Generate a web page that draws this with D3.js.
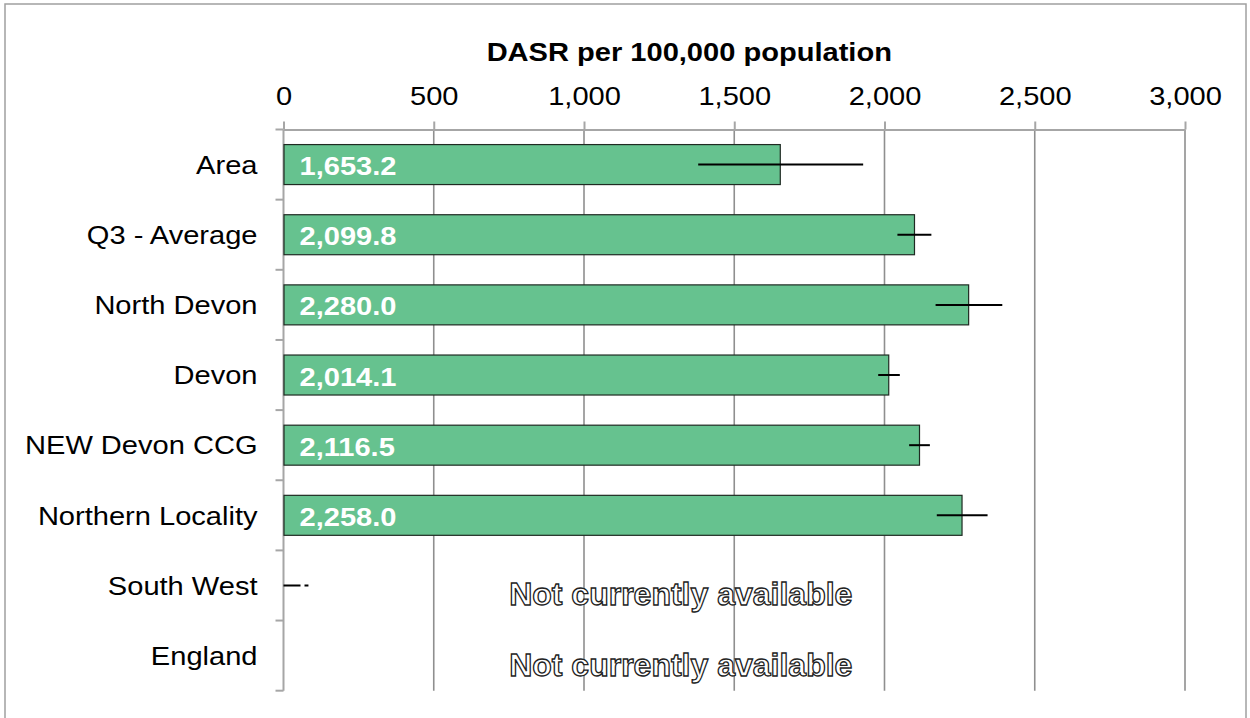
<!DOCTYPE html>
<html>
<head>
<meta charset="utf-8">
<script src="https://cdn.jsdelivr.net/npm/d3@7"></script>
<style>
  html, body { margin: 0; padding: 0; background: #fff; }
  svg { display: block; }
  text { font-family: "Liberation Sans", Arial, sans-serif; }
</style>
</head>
<body>
<svg id="chart" width="1250" height="718"></svg>
<script>
// ---- data ----
const categories = ["Area", "Q3 - Average", "North Devon", "Devon", "NEW Devon CCG", "Northern Locality", "South West", "England"];
const values = [1653.2, 2099.8, 2280.0, 2014.1, 2116.5, 2258.0, null, null];
const lowerCI = [1380, 2043, 2170, 1979, 2082, 2174, 0, null];
const upperCI = [1929, 2156, 2392, 2051, 2151, 2343, 83, null];
const tickValues = [0, 500, 1000, 1500, 2000, 2500, 3000];
const axisTitle = "DASR per 100,000 population";
const naText = "Not currently available";
const naLabelValue = 1322;

// ---- layout ----
const x0 = 283.5, x1 = 1185;
const yTop = 129.5, yBot = 690.7;
const fs = 25.5, sx = 1.14;
const fmt = d3.format(",.1f");

const svg = d3.select("#chart");

// border
svg.append("rect")
  .attr("x", 5).attr("y", 4).attr("width", 1241).attr("height", 730)
  .attr("fill", "none").attr("stroke", "#a0a0a0").attr("stroke-width", 1.5);

const x = d3.scaleLinear().domain([0, 3000]).range([x0, x1]);
const y = d3.scaleBand().domain(categories).range([yTop, yBot])
  .paddingInner(0.43).paddingOuter(0.215);

// gridlines
svg.append("g").selectAll("line").data(tickValues.filter(d => d > 0)).join("line")
  .attr("x1", d => x(d)).attr("x2", d => x(d))
  .attr("y1", yTop).attr("y2", yBot)
  .attr("stroke", "#8f8f8f").attr("stroke-width", 1.6);

// top axis
const gx = svg.append("g").attr("transform", `translate(0,${yTop})`)
  .call(d3.axisTop(x).tickValues(tickValues).tickFormat(d3.format(",")).tickSize(8).tickSizeOuter(0).tickPadding(17));
gx.select(".domain").attr("stroke", "#a6a6a6").attr("stroke-width", 2);
gx.selectAll(".tick line").attr("stroke", "#a6a6a6").attr("stroke-width", 2);
gx.selectAll(".tick text")
  .attr("font-size", fs).attr("fill", "#000")
  .attr("font-family", "Liberation Sans, Arial, sans-serif")
  .attr("transform", `scale(${sx},1)`);

// axis title
svg.append("text")
  .attr("transform", `translate(${(x0 + x1) / 2 - 45},61) scale(${sx},1)`)
  .attr("text-anchor", "middle").attr("font-weight", "bold")
  .attr("font-size", fs).text(axisTitle);

// left axis line + tick marks at band boundaries
const step = y.step();
const boundaries = d3.range(categories.length + 1).map(i => y.range()[0] + i * step);
svg.append("line")
  .attr("x1", x0).attr("x2", x0).attr("y1", yTop).attr("y2", yBot)
  .attr("stroke", "#a6a6a6").attr("stroke-width", 2);
svg.append("g").selectAll("line").data(boundaries).join("line")
  .attr("x1", x0 - 8).attr("x2", x0)
  .attr("y1", d => d).attr("y2", d => d)
  .attr("stroke", "#a6a6a6").attr("stroke-width", 2);

// category labels
const gy = svg.append("g").attr("transform", `translate(${x0},0)`)
  .call(d3.axisLeft(y).tickSize(0).tickPadding(0));
gy.select(".domain").remove();
gy.selectAll(".tick text")
  .attr("font-size", fs).attr("fill", "#000")
  .attr("font-family", "Liberation Sans, Arial, sans-serif")
  .attr("x", 0).attr("dy", "0.36em")
  .attr("transform", `translate(-26,0) scale(${sx},1)`);

// bars
const rows = categories.map((c, i) => ({ c, v: values[i], lo: lowerCI[i], hi: upperCI[i] }));
svg.append("g").selectAll("rect").data(rows.filter(d => d.v != null)).join("rect")
  .attr("x", x(0) + 0.5).attr("y", d => y(d.c))
  .attr("width", d => x(d.v) - x(0) - 0.5).attr("height", y.bandwidth())
  .attr("fill", "#66c28f").attr("stroke", "#1f2a22").attr("stroke-width", 1.2);

// value labels
svg.append("g").selectAll("text").data(rows.filter(d => d.v != null)).join("text")
  .attr("transform", d => `translate(${x(0) + 16},${y(d.c) + y.bandwidth() / 2 + 10.5}) scale(${sx},1)`)
  .attr("font-size", fs).attr("font-weight", "bold").attr("fill", "#fff")
  .text(d => fmt(d.v));

// error bars
svg.append("g").selectAll("line").data(rows.filter(d => d.lo != null)).join("line")
  .attr("x1", d => x(d.lo)).attr("x2", d => x(d.hi))
  .attr("y1", d => y(d.c) + y.bandwidth() / 2).attr("y2", d => y(d.c) + y.bandwidth() / 2)
  .attr("stroke", "#000").attr("stroke-width", 2)
  .attr("stroke-dasharray", d => d.v == null ? "17,4,5,100" : null);

// not available labels
svg.append("g").selectAll("text").data(rows.filter(d => d.v == null)).join("text")
  .attr("x", x(naLabelValue)).attr("y", d => y(d.c) + y.bandwidth() / 2 + 20)
  .attr("text-anchor", "middle").attr("font-size", 32).attr("font-weight", "bold")
  .attr("fill", "#fff").attr("stroke", "#222").attr("stroke-width", 1.3)
  .text(naText);
</script>
</body>
</html>
